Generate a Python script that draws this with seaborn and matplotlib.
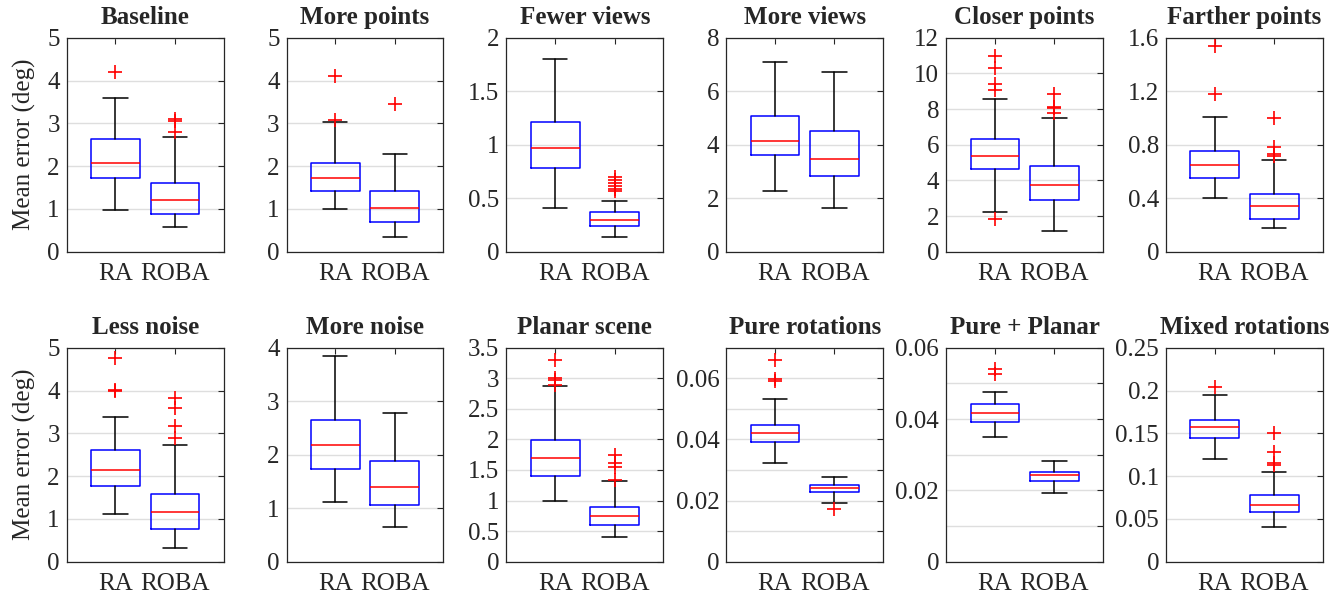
import numpy as np
import matplotlib
matplotlib.use("Agg")
import matplotlib.pyplot as plt
import seaborn as sns


# panel setup
titles = ["Baseline", "More points", "Fewer views", "More views", "Closer points", "Farther points",
          "Less noise", "More noise", "Planar scene", "Pure rotations", "Pure + Planar", "Mixed rotations"]
groups = ["RA", "ROBA"]
y_max = [5, 5, 2, 8, 12, 1.6, 5, 4, 3.5, 0.07, 0.06, 0.25]
y_step = [1, 1, 0.5, 2, 2, 0.4, 1, 1, 0.5, 0.01, 0.01, 0.05]
label_every = [1, 1, 1, 1, 1, 1, 1, 1, 1, 2, 2, 1]

# box statistics (RA)
ra_lo = [0.97, 1.00, 0.41, 2.25, 2.22, 0.400, 1.11, 1.11, 0.99, 0.0322, 0.0351, 0.120]
ra_q1 = [1.72, 1.42, 0.78, 3.62, 4.64, 0.553, 1.78, 1.74, 1.40, 0.0391, 0.0393, 0.145]
ra_med = [2.08, 1.73, 0.97, 4.12, 5.35, 0.645, 2.15, 2.18, 1.69, 0.0420, 0.0416, 0.157]
ra_q3 = [2.64, 2.07, 1.21, 5.07, 6.30, 0.755, 2.62, 2.64, 1.99, 0.0448, 0.0443, 0.165]
ra_hi = [3.60, 3.02, 1.80, 7.10, 8.54, 1.007, 3.39, 3.85, 2.87, 0.0533, 0.0476, 0.1945]
ra_fliers = [[4.2], [3.08, 4.1], [], [], [1.83, 9.07, 9.4, 10.3, 11.0], [1.18, 1.54],
             [3.99, 4.01, 4.76], [], [2.89, 2.97, 3.00, 3.30], [0.0591, 0.0597, 0.066],
             [0.0525, 0.0541], [0.2046]]

# box statistics (ROBA)
roba_lo = [0.57, 0.35, 0.14, 1.65, 1.16, 0.177, 0.31, 0.64, 0.398, 0.0193, 0.0192, 0.0404]
roba_q1 = [0.87, 0.69, 0.24, 2.84, 2.92, 0.244, 0.755, 1.06, 0.605, 0.0227, 0.0226, 0.0582]
roba_med = [1.20, 1.02, 0.30, 3.45, 3.74, 0.339, 1.16, 1.40, 0.752, 0.0240, 0.0243, 0.0668]
roba_q3 = [1.60, 1.41, 0.37, 4.52, 4.82, 0.434, 1.59, 1.88, 0.894, 0.0251, 0.0252, 0.0784]
roba_hi = [2.68, 2.29, 0.47, 6.70, 7.51, 0.688, 2.72, 2.78, 1.32, 0.0278, 0.0283, 0.105]
roba_fliers = [[2.8, 3.05, 3.1], [3.46], [0.57, 0.59, 0.61, 0.64, 0.67, 0.70], [],
               [7.76, 8.04, 8.11, 8.82], [0.718, 0.73, 0.785, 0.997],
               [2.90, 3.17, 3.58, 3.83], [], [1.34, 1.55, 1.61, 1.74], [0.0172],
               [], [0.113, 0.1153, 0.128, 0.1506]]


def box_stats(i):
	ra = dict(label="RA", whislo=ra_lo[i], q1=ra_q1[i], med=ra_med[i], q3=ra_q3[i],
	          whishi=ra_hi[i], fliers=np.array(ra_fliers[i]))
	roba = dict(label="ROBA", whislo=roba_lo[i], q1=roba_q1[i], med=roba_med[i], q3=roba_q3[i],
	            whishi=roba_hi[i], fliers=np.array(roba_fliers[i]))
	return [ra, roba]


def fmt(v):
	return "{:g}".format(round(v, 4))


sns.set_style("white")
plt.rcParams['font.family'] = ['Liberation Serif', 'DejaVu Serif']

fig, axes = plt.subplots(2, 6, figsize=(13.42, 5.93), dpi=100)
fig.subplots_adjust(left=0.0497, right=0.9858, top=0.9364, bottom=0.0528, wspace=0.401, hspace=0.449)

for i, ax in enumerate(axes.flat):
	ax.bxp(box_stats(i), positions=[1, 2], widths=0.82, manage_ticks=False,
	       boxprops=dict(color='blue', lw=1.1),
	       medianprops=dict(color='red', lw=1.1),
	       whiskerprops=dict(color='black', lw=1.1),
	       capprops=dict(color='black', lw=1.1),
	       flierprops=dict(marker='+', markeredgecolor='red', markersize=10, markeredgewidth=1.2, linestyle='none'))

	ax.set_xlim(0.18, 2.82)
	ax.set_ylim(0, y_max[i])
	ax.set_xticks([1, 2])
	ax.set_xticklabels(groups)
	ticks = np.round(np.arange(0, y_max[i] + y_step[i] / 2, y_step[i]), 4)
	labels = [fmt(t) if k % label_every[i] == 0 else '' for k, t in enumerate(ticks)]
	ax.set_yticks(ticks)
	ax.set_yticklabels(labels)

	ax.yaxis.grid(True, color='#dedede', lw=1)
	ax.xaxis.grid(False)
	ax.set_axisbelow(True)
	ax.tick_params(direction='in', top=True, right=True, length=4, width=0.8,
	               labelsize=18, colors='#262626', pad=5)
	ax.tick_params(axis='x', pad=8)
	for s in ax.spines.values():
		s.set_color('#262626')
		s.set_linewidth(0.9)

	ax.set_title(titles[i], fontsize=18, fontweight='bold', pad=10)
	if i % 6 == 0:
		ax.set_ylabel('Mean error (deg)', fontsize=18, labelpad=8)

plt.savefig('out.png', dpi=100)
